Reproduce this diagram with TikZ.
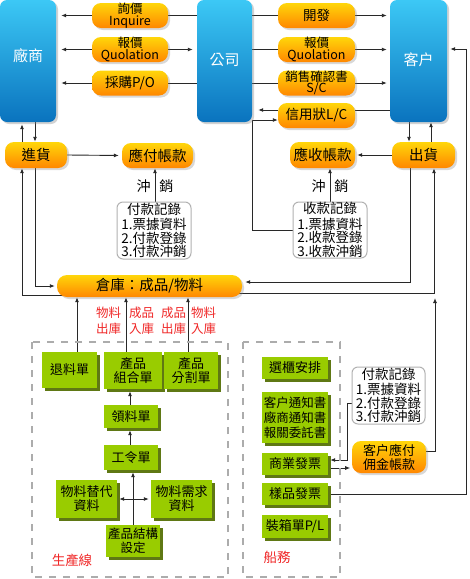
\documentclass[tikz,border=0pt]{standalone}
\usepackage{fontspec}
\setmainfont{Noto Sans CJK TC}
\usetikzlibrary{arrows.meta,shadows,backgrounds}
\definecolor{blueT}{RGB}{60,200,245}
\definecolor{blueB}{RGB}{10,115,190}
\definecolor{orT}{RGB}{255,214,10}
\definecolor{orB}{RGB}{255,135,0}
\definecolor{grF}{RGB}{153,204,0}
\definecolor{grD}{RGB}{95,120,20}
\definecolor{redT}{RGB}{240,40,40}
\definecolor{lineC}{RGB}{40,40,40}
\begin{document}
\begin{tikzpicture}[x=1pt,y=-1pt,
  bluebox/.style={rounded corners=7pt, top color=blueT, bottom color=blueB, draw=none, text=white,
    font=\fontsize{15}{16}\selectfont, inner sep=0pt,
    drop shadow={shadow xshift=2pt, shadow yshift=-2pt, opacity=0.35}},
  orbox/.style={rounded corners=9pt, top color=orT, bottom color=orB, draw=none, text=black,
    font=\fontsize{12.5}{11.5}\selectfont, align=center, inner sep=0pt,
    drop shadow={shadow xshift=2pt, shadow yshift=-2pt, opacity=0.3}},
  orbig/.style={orbox, font=\fontsize{14.5}{15}\selectfont},
  grbox/.style={fill=grF, draw=none, text=black, font=\fontsize{13}{14}\selectfont, align=center, inner sep=0pt,
    drop shadow={shadow xshift=3pt, shadow yshift=-3pt, fill=grD, opacity=1}},
  notebox/.style={fill=white, draw=gray!60, line width=1pt, rounded corners=6pt, align=center, inner sep=0pt,
    font=\fontsize{13.5}{12}\selectfont},
  redlab/.style={text=redT, font=\fontsize{12.5}{16}\selectfont, align=center, inner sep=0pt},
  cxlab/.style={text=black, font=\fontsize{14}{14}\selectfont, inner sep=0pt},
  dashbox/.style={draw=gray!65, line width=2.5pt, dash pattern=on 7pt off 7pt},
  arr/.style={-{Latex[length=5pt,width=4pt]}, line width=0.9pt, draw=lineC},
  arrs/.style={{Latex[length=5pt,width=4pt]}-{Latex[length=5pt,width=4pt]}, line width=0.9pt, draw=lineC},
  ln/.style={line width=0.9pt, draw=lineC}
]
\useasboundingbox (0,0) rectangle (470,579);

% dashed groups
\draw[dashbox] (32,342) rectangle (228,577);
\draw[dashbox] (243,342) rectangle (340,577);
\node[redlab, font=\fontsize{13.5}{14}\selectfont] (lab1) at (72,560) {生產線};
\node[redlab, font=\fontsize{13.5}{14}\selectfont] (lab2) at (277,557) {船務};

% big blue boxes
\node[bluebox, minimum width=56pt, minimum height=122pt] (cs) at (28,61) {\raisebox{12pt}{廠商}};
\node[bluebox, minimum width=55pt, minimum height=122pt] (gs) at (224.5,61) {\raisebox{3pt}{公司}};
\node[bluebox, minimum width=57pt, minimum height=122pt] (kh) at (418.5,61) {\raisebox{3pt}{客户}};

% orange middle boxes
\node[orbox, minimum width=76pt, minimum height=25pt] (inq) at (130,15.5) {詢價\\Inquire};
\node[orbox, minimum width=76pt, minimum height=25pt] (bj1) at (130,49.5) {報價\\Quolation};
\node[orbox, minimum width=76pt, minimum height=25pt, font=\fontsize{13.5}{13}\selectfont] (cg) at (130,83) {採購P/O};
\node[orbox, minimum width=77pt, minimum height=25pt, font=\fontsize{13.5}{13}\selectfont] (kf) at (316.5,15.5) {開發};
\node[orbox, minimum width=77pt, minimum height=25pt] (bj2) at (316.5,49.5) {報價\\Quolation};
\node[orbox, minimum width=77pt, minimum height=25pt] (xs) at (316.5,83) {銷售確認書\\S/C};
\node[orbox, minimum width=77pt, minimum height=25pt, font=\fontsize{13.5}{13}\selectfont] (xy) at (316.5,115.5) {信用狀L/C};

% second row
\node[orbig, minimum width=62pt, minimum height=26pt] (jh) at (36,155) {進貨};
\node[orbig, minimum width=71pt, minimum height=25pt] (yf) at (157.5,155.5) {應付帳款};
\node[orbig, minimum width=65pt, minimum height=26pt] (ys) at (322.5,155) {應收帳款};
\node[orbig, minimum width=63pt, minimum height=26pt] (cu) at (423.5,155) {出貨};

\node[cxlab] (cx1) at (155,186) {沖\hspace{9pt}銷};
\node[cxlab] (cx2) at (330,186) {沖\hspace{9pt}銷};

\node[notebox, minimum width=74pt, minimum height=57pt] (fk) at (154,230.5) {付款記錄\\[2pt]1.票據資料\\2.付款登錄\\3.付款沖銷};
\node[notebox, minimum width=74pt, minimum height=56pt] (sk) at (330,230) {收款記錄\\[2pt]1.票據資料\\2.收款登錄\\3.收款沖銷};

% warehouse
\node[orbig, minimum width=185pt, minimum height=22pt, rounded corners=10pt] (ck) at (149.5,286) {倉庫：成品/物料};

% red labels
\node[redlab] (r1) at (108.5,321) {物料\\出庫};
\node[redlab] (r2) at (141.5,321) {成品\\入庫};
\node[redlab] (r3) at (173.5,321) {成品\\出庫};
\node[redlab] (r4) at (203.5,321) {物料\\入庫};

% production green boxes
\node[grbox, minimum width=55pt, minimum height=36pt] (tl) at (69.5,370) {退料單};
\node[grbox, minimum width=58pt, minimum height=37pt] (zh) at (133,370.5) {產品\\組合單};
\node[grbox, minimum width=54pt, minimum height=37pt] (fg) at (191,370.5) {產品\\分割單};
\node[grbox, minimum width=54pt, minimum height=23pt] (ll) at (131,416.5) {領料單};
\node[grbox, minimum width=54pt, minimum height=25pt] (gl) at (131,457.5) {工令單};
\node[grbox, minimum width=61pt, minimum height=38pt] (td) at (86.5,499) {物料替代\\資料};
\node[grbox, minimum width=61pt, minimum height=38pt] (xq) at (181.5,499) {物料需求\\資料};
\node[grbox, minimum width=54pt, minimum height=32pt, font=\fontsize{12.5}{14}\selectfont] (jg) at (133,541) {產品結構\\設定};

% shipping green boxes
\node[grbox, minimum width=66pt, minimum height=22pt] (xg) at (295,368) {選櫃安排};
\node[grbox, minimum width=66pt, minimum height=51pt, font=\fontsize{12.5}{15}\selectfont] (tz) at (295,417.5) {客户通知書\\廠商通知書\\報關委託書};
\node[grbox, minimum width=66pt, minimum height=22pt] (sy) at (295,464) {商業發票};
\node[grbox, minimum width=66pt, minimum height=22pt] (yb) at (295,494) {樣品發票};
\node[grbox, minimum width=66pt, minimum height=23pt] (zx) at (295,526.5) {裝箱單P/L};

\node[notebox, minimum width=73pt, minimum height=57pt] (fk2) at (388.5,395.5) {付款記錄\\[2pt]1.票據資料\\2.付款登錄\\3.付款沖銷};
\node[orbox, minimum width=74pt, minimum height=32pt, font=\fontsize{13}{14}\selectfont] (yj) at (389,457) {客户應付\\佣金帳款};

\coordinate (jn) at (435,298);

\begin{scope}[on background layer]
\fill[white] (0,0) rectangle (470,579);
% top left
\draw[ln] (gs.west |- inq) -- (inq.east);
\draw[arr, shorten >=5pt] (inq.west) -- (cs.east |- inq);
\draw[arr, shorten >=5pt] (bj1.west) -- (cs.east |- bj1);
\draw[arr, shorten >=4pt] (bj1.east) -- (gs.west |- bj1);
\draw[ln] (gs.west |- cg) -- (cg.east);
\draw[arr, shorten >=5pt] (cg.west) -- (cs.east |- cg);
% top right
\draw[ln] (gs.east |- kf) -- (kf.west);
\draw[arr, shorten >=3pt] (kf.east) -- (kh.west |- kf);
\draw[ln] (gs.east |- bj2) -- (bj2.west);
\draw[arr, shorten >=3pt] (bj2.east) -- (kh.west |- bj2);
\draw[ln] (gs.east |- xs) -- (xs.west);
\draw[arr, shorten >=3pt] (xs.east) -- (kh.west |- xs);
\draw[ln] ([yshift=5.5pt]xy.east -| kh.west) -- ([yshift=5.5pt]xy.east);
\draw[arr, shorten >=6pt] ([yshift=5.5pt]xy.west) -- ([yshift=5.5pt]xy.west -| gs.east);
\draw[arr] (sk.west) -- ++(-40,0) |- ([yshift=-4.5pt]xy.west);
% left column
\draw[arr, shorten >=2pt] (jh.north -| 22,0) -- (cs.south -| 22,0);
\draw[arr] (cs.south -| 35,0) -- (jh.north -| 35,0);
\draw[arr, shorten >=3pt] (jh.east) -- (yf.west);
\draw[arr] (fk.north -| 155,0) -- (yf.south -| 155,0);
\draw[arr, shorten >=2pt] (jh.south -| 35,0) |- (ck.west);
\draw[arr] ([xshift=8pt]ck.west |- 0,295) -| (jh.south -| 22,0);
% right column
\draw[arr] (kh.south -| 409,0) -- (cu.north -| 409,0);
\draw[arr] (cu.north -| 431,0) -- (kh.south -| 431,0);
\draw[arr, shorten >=2pt] (cu.west) -- (ys.east);
\draw[arr] (sk.north -| 330,0) -- (ys.south -| 330,0);
\draw[arr, shorten >=3pt] (cu.south -| 410,0) |- (ck.east |- 0,282);
\draw[arr] ([xshift=-8pt]ck.east |- 0,293) -| (cu.south -| 434,0);
% production
\draw[arr] (tl.north -| 77,0) -- (ck.south -| 77,0);
\draw[arr] (zh.north -| 126,0) -- (ck.south -| 126,0);
\draw[arr] (fg.north -| 188,0) -- (ck.south -| 188,0);
\draw[arr, shorten >=2pt] (ll.north -| 130,0) -- (zh.south -| 130,0);
\draw[arr, shorten >=2pt] (gl.north -| 130,0) -- (ll.south -| 130,0);
\draw[arr, shorten >=2pt] (jg.north -| 133,0) -- (gl.south -| 133,0);
\draw[arrs, shorten >=2pt, shorten <=2pt] (td.east) -- (xq.west);
% shipping
\draw[arr, shorten >=2pt] ([yshift=-7.5pt]fk2.west) -- ++(-4,0) |- ([yshift=4pt]sy.east);
\draw[arr] ([yshift=-4pt]sy.east) -- ++(22,0);
\draw[arr] ([yshift=6pt]yj.east) -| (jn);
\draw[arr, shorten >=3pt] (yb.east) -| (466,49) -- (kh.east |- 0,49);
\end{scope}
\end{tikzpicture}
\end{document}
